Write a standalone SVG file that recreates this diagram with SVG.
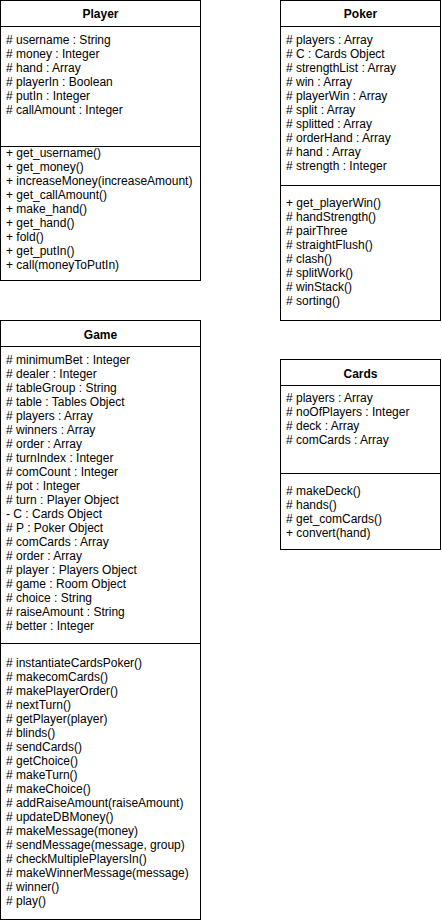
<svg xmlns="http://www.w3.org/2000/svg" width="442" height="924" viewBox="0 0 442 924">
<style>
.box{fill:#fff;stroke:#000;stroke-width:1}
.ln{stroke:#000;stroke-width:1}
text{font-family:"Liberation Sans",Arial,sans-serif;font-size:12px;fill:#000}
.t{font-weight:bold;text-anchor:middle}
</style>
<rect width="442" height="924" fill="#fff"/>
<g id="player">
<rect class="box" x="0.5" y="0.5" width="200" height="280"/>
<line class="ln" x1="0.5" y1="26.5" x2="200.5" y2="26.5"/>
<line class="ln" x1="0.5" y1="146.5" x2="200.5" y2="146.5"/>
<text class="t" x="100.5" y="18">Player</text>
<text x="6" y="44"># username : String</text>
<text x="6" y="58"># money : Integer</text>
<text x="6" y="72"># hand : Array</text>
<text x="6" y="86"># playerIn : Boolean</text>
<text x="6" y="100"># putIn : Integer</text>
<text x="6" y="114"># callAmount : Integer</text>
<text x="6" y="157">+ get_username()</text>
<text x="6" y="171">+ get_money()</text>
<text x="6" y="185">+ increaseMoney(increaseAmount)</text>
<text x="6" y="199">+ get_callAmount()</text>
<text x="6" y="213">+ make_hand()</text>
<text x="6" y="227">+ get_hand()</text>
<text x="6" y="241">+ fold()</text>
<text x="6" y="255">+ get_putIn()</text>
<text x="6" y="269">+ call(moneyToPutIn)</text>
</g>
<g id="poker">
<rect class="box" x="280.5" y="0.5" width="160" height="320"/>
<line class="ln" x1="280.5" y1="26.5" x2="440.5" y2="26.5"/>
<line class="ln" x1="280.5" y1="185.5" x2="440.5" y2="185.5"/>
<text class="t" x="360.5" y="18">Poker</text>
<text x="286" y="44"># players : Array</text>
<text x="286" y="58"># C : Cards Object</text>
<text x="286" y="72"># strengthList : Array</text>
<text x="286" y="86"># win : Array</text>
<text x="286" y="100"># playerWin : Array</text>
<text x="286" y="114"># split : Array</text>
<text x="286" y="128"># splitted : Array</text>
<text x="286" y="142"># orderHand : Array</text>
<text x="286" y="156"># hand : Array</text>
<text x="286" y="170"># strength : Integer</text>
<text x="286" y="207">+ get_playerWin()</text>
<text x="286" y="221"># handStrength()</text>
<text x="286" y="235"># pairThree</text>
<text x="286" y="249"># straightFlush()</text>
<text x="286" y="263"># clash()</text>
<text x="286" y="277"># splitWork()</text>
<text x="286" y="291"># winStack()</text>
<text x="286" y="305"># sorting()</text>
</g>
<g id="game">
<rect class="box" x="0.5" y="320.5" width="200" height="599"/>
<line class="ln" x1="0.5" y1="346.5" x2="200.5" y2="346.5"/>
<line class="ln" x1="0.5" y1="643.5" x2="200.5" y2="643.5"/>
<text class="t" x="100.5" y="339">Game</text>
<text x="6" y="364"># minimumBet : Integer</text>
<text x="6" y="378"># dealer : Integer</text>
<text x="6" y="392"># tableGroup : String</text>
<text x="6" y="406"># table : Tables Object</text>
<text x="6" y="420"># players : Array</text>
<text x="6" y="434"># winners : Array</text>
<text x="6" y="448"># order : Array</text>
<text x="6" y="462"># turnIndex : Integer</text>
<text x="6" y="476"># comCount : Integer</text>
<text x="6" y="490"># pot : Integer</text>
<text x="6" y="504"># turn : Player Object</text>
<text x="6" y="518">- C : Cards Object</text>
<text x="6" y="532"># P : Poker Object</text>
<text x="6" y="546"># comCards : Array</text>
<text x="6" y="560"># order : Array</text>
<text x="6" y="574"># player : Players Object</text>
<text x="6" y="588"># game : Room Object</text>
<text x="6" y="602"># choice : String</text>
<text x="6" y="616"># raiseAmount : String</text>
<text x="6" y="630"># better : Integer</text>
<text x="6" y="667"># instantiateCardsPoker()</text>
<text x="6" y="681"># makecomCards()</text>
<text x="6" y="695"># makePlayerOrder()</text>
<text x="6" y="709"># nextTurn()</text>
<text x="6" y="723"># getPlayer(player)</text>
<text x="6" y="737"># blinds()</text>
<text x="6" y="751"># sendCards()</text>
<text x="6" y="765"># getChoice()</text>
<text x="6" y="779"># makeTurn()</text>
<text x="6" y="793"># makeChoice()</text>
<text x="6" y="807"># addRaiseAmount(raiseAmount)</text>
<text x="6" y="821"># updateDBMoney()</text>
<text x="6" y="835"># makeMessage(money)</text>
<text x="6" y="849"># sendMessage(message, group)</text>
<text x="6" y="863"># checkMultiplePlayersIn()</text>
<text x="6" y="877"># makeWinnerMessage(message)</text>
<text x="6" y="891"># winner()</text>
<text x="6" y="905"># play()</text>
</g>
<g id="cards">
<rect class="box" x="280.5" y="359.5" width="160" height="190"/>
<line class="ln" x1="280.5" y1="385.5" x2="440.5" y2="385.5"/>
<line class="ln" x1="280.5" y1="473.5" x2="440.5" y2="473.5"/>
<text class="t" x="360.5" y="378">Cards</text>
<text x="286" y="402"># players : Array</text>
<text x="286" y="416"># noOfPlayers : Integer</text>
<text x="286" y="430"># deck : Array</text>
<text x="286" y="444"># comCards : Array</text>
<text x="286" y="495"># makeDeck()</text>
<text x="286" y="509"># hands()</text>
<text x="286" y="523"># get_comCards()</text>
<text x="286" y="537">+ convert(hand)</text>
</g>
<g id="connectors"/>
</svg>
